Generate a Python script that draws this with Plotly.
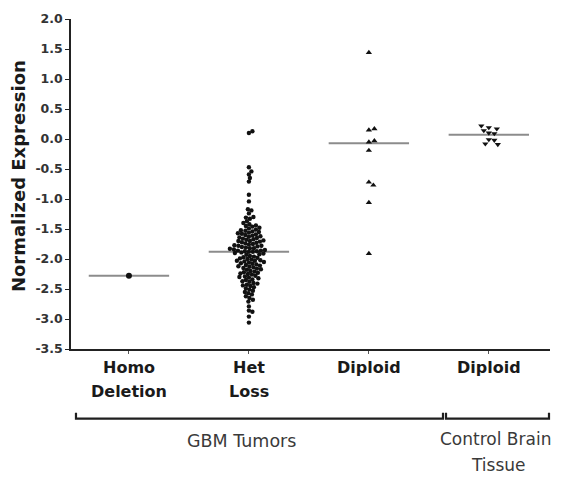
import plotly.graph_objects as go

# ---- data ---------------------------------------------------------------
groups = ["Homo Deletion", "Het Loss", "Diploid (GBM)", "Diploid (control)"]
label_lines = [["Homo", "Deletion"], ["Het", "Loss"], ["Diploid"], ["Diploid"]]

homo_deletion = [-2.28]

het_loss = [
    0.13, 0.10,
    -0.47, -0.54, -0.59, -0.65, -0.71,
    -0.93, -1.04,
    -1.17, -1.19, -1.24,
    -1.30, -1.31, -1.33,
    -1.37, -1.40, -1.42, -1.44, -1.45,
    -1.46, -1.48, -1.49, -1.51, -1.52, -1.53, -1.54, -1.55,
    -1.56, -1.57, -1.58, -1.59, -1.60, -1.61, -1.62, -1.63, -1.64, -1.65,
    -1.66, -1.67, -1.68, -1.69, -1.70, -1.70, -1.71, -1.72, -1.73, -1.74, -1.75,
    -1.76, -1.77, -1.78, -1.78, -1.79, -1.80, -1.81, -1.82, -1.82, -1.83, -1.84, -1.85,
    -1.86, -1.86, -1.87, -1.87, -1.88, -1.88, -1.89, -1.90, -1.91, -1.92, -1.93, -1.95,
    -1.96, -1.97, -1.98, -1.99, -2.00, -2.01, -2.02, -2.03, -2.03, -2.04, -2.05,
    -2.06, -2.07, -2.08, -2.09, -2.10, -2.11, -2.12, -2.13, -2.14, -2.15,
    -2.16, -2.17, -2.18, -2.20, -2.21, -2.22, -2.23, -2.24, -2.25,
    -2.26, -2.28, -2.29, -2.30, -2.31, -2.32, -2.34, -2.35,
    -2.37, -2.38, -2.40, -2.41, -2.43, -2.44, -2.45,
    -2.47, -2.49, -2.51, -2.53, -2.55,
    -2.57, -2.59, -2.62, -2.65,
    -2.68, -2.71,
    -2.79, -2.86, -2.88, -2.96, -3.06,
]

diploid_gbm = [1.44, 0.17, 0.15, -0.03, -0.05, -0.19, -0.72, -0.77, -1.06, -1.91]

diploid_control = [0.22, 0.19, 0.17, 0.14, 0.10, 0.09, -0.01, -0.02, -0.08, -0.09]

medians = [-2.28, -1.88, -0.07, 0.07]

y_ticks = [2.0, 1.5, 1.0, 0.5, 0.0, -0.5, -1.0, -1.5, -2.0, -2.5, -3.0, -3.5]

# ---- geometry of the plotting area --------------------------------------
W, H = 561, 479
M_L, M_R, M_T, M_B = 71, 11, 17, 130
X_RANGE = [-0.483, 3.51]
Y_RANGE = [-3.5, 2.0]
PX_X = (W - M_L - M_R) / (X_RANGE[1] - X_RANGE[0])
PX_Y = (H - M_T - M_B) / (Y_RANGE[1] - Y_RANGE[0])


def swarm(values, center, dmin=4.6, step=0.5):
    """Beeswarm x positions: nudge each point sideways until it no longer
    overlaps any point already placed (distances measured in pixels)."""
    placed = []
    xs = [center] * len(values)
    mid = sorted(values)[len(values) // 2]
    order = sorted(range(len(values)), key=lambda i: abs(values[i] - mid))
    for i in order:
        y = values[i] * PX_Y
        off = 0.0
        k = 0
        found = False
        while not found:
            for sgn in ([1] if k == 0 else [1, -1]):
                cand = sgn * k * step
                if all((cand - px) ** 2 + (y - py) ** 2 >= dmin ** 2 for px, py in placed):
                    off = cand
                    found = True
                    break
            k += 1
        placed.append((off, y))
        xs[i] = center + off / PX_X
    return xs


series = [homo_deletion, het_loss, diploid_gbm, diploid_control]
symbols = ["circle", "circle", "triangle-up", "triangle-down"]
sizes = [6, 4.4, 5.5, 5.5]
spacing = [5.0, 3.7, 5.4, 5.4]

fig = go.Figure()

# median bars (drawn first so the points sit on top)
for idx, m in enumerate(medians):
    fig.add_trace(go.Scatter(
        x=[idx - 0.335, idx + 0.335],
        y=[m, m],
        mode="lines",
        line=dict(color="#8c8c8c", width=2),
        showlegend=False,
        hoverinfo="skip",
    ))

for idx, vals in enumerate(series):
    fig.add_trace(go.Scatter(
        x=swarm(vals, idx, dmin=spacing[idx]),
        y=vals,
        mode="markers",
        marker=dict(symbol=symbols[idx], size=sizes[idx], color="#111111",
                    line=dict(width=0)),
        name=groups[idx],
        showlegend=False,
        hoverinfo="y",
    ))

# category labels under the axis (two lines each, wide leading)
label_font = dict(family="DejaVu Sans", size=16, color="#1a1a1a", weight="bold")
line_y = [-0.057, -0.130]
annotations = []
for idx, lines in enumerate(label_lines):
    for j, txt in enumerate(lines):
        annotations.append(dict(
            x=idx, y=line_y[j], xref="x", yref="paper", text=txt,
            showarrow=False, xanchor="center", yanchor="middle", font=label_font,
        ))

# group captions below the brackets
cap_font = dict(family="DejaVu Sans", size=17.5, color="#3a3a3a")
annotations += [
    dict(x=0.94, y=-0.280, xref="x", yref="paper", text="GBM Tumors",
         showarrow=False, xanchor="center", yanchor="middle", font=cap_font),
    dict(x=3.055, y=-0.274, xref="x", yref="paper", text="Control Brain",
         showarrow=False, xanchor="center", yanchor="middle",
         font=dict(family="DejaVu Sans", size=17, color="#3a3a3a")),
    dict(x=3.08, y=-0.350, xref="x", yref="paper", text="Tissue",
         showarrow=False, xanchor="center", yanchor="middle",
         font=dict(family="DejaVu Sans", size=17, color="#3a3a3a")),
    dict(x=-0.1106, y=0.524, xref="paper", yref="paper", text="Normalized Expression",
         textangle=-90, showarrow=False, xanchor="center", yanchor="middle",
         font=dict(family="DejaVu Sans", size=18, color="#1a1a1a", weight="bold")),
]

# brackets grouping the categories
def bracket(x0, x1, y=-0.211, tip=-0.193):
    return dict(type="path", xref="paper", yref="paper",
                path=f"M {x0},{tip} L {x0},{y} L {x1},{y} L {x1},{tip}",
                line=dict(color="#1f1f1f", width=2.2))

shapes = [bracket(0.0104, 0.7766), bracket(0.7829, 0.9979)]

fig.update_layout(
    width=W, height=H,
    margin=dict(l=M_L, r=M_R, t=M_T, b=M_B, pad=0),
    paper_bgcolor="white", plot_bgcolor="white",
    annotations=annotations,
    shapes=shapes,
    xaxis=dict(
        range=X_RANGE, tickvals=[0, 1, 2, 3], ticktext=["", "", "", ""],
        ticks="outside", ticklen=3, tickcolor="#555555", tickwidth=1,
        showline=True, linecolor="#222222", linewidth=1.5,
        showgrid=False, zeroline=False, fixedrange=True,
    ),
    yaxis=dict(
        range=Y_RANGE, tickvals=y_ticks,
        ticktext=[f"{v:.1f}" for v in y_ticks],
        ticks="outside", ticklen=4, tickcolor="#222222", tickwidth=1,
        tickfont=dict(family="DejaVu Sans", size=12.5, color="#333333", weight="bold"),
        showline=True, linecolor="#222222", linewidth=1.5,
        showgrid=False, zeroline=False, fixedrange=True,
    ),
)

fig.write_html("out.html")
